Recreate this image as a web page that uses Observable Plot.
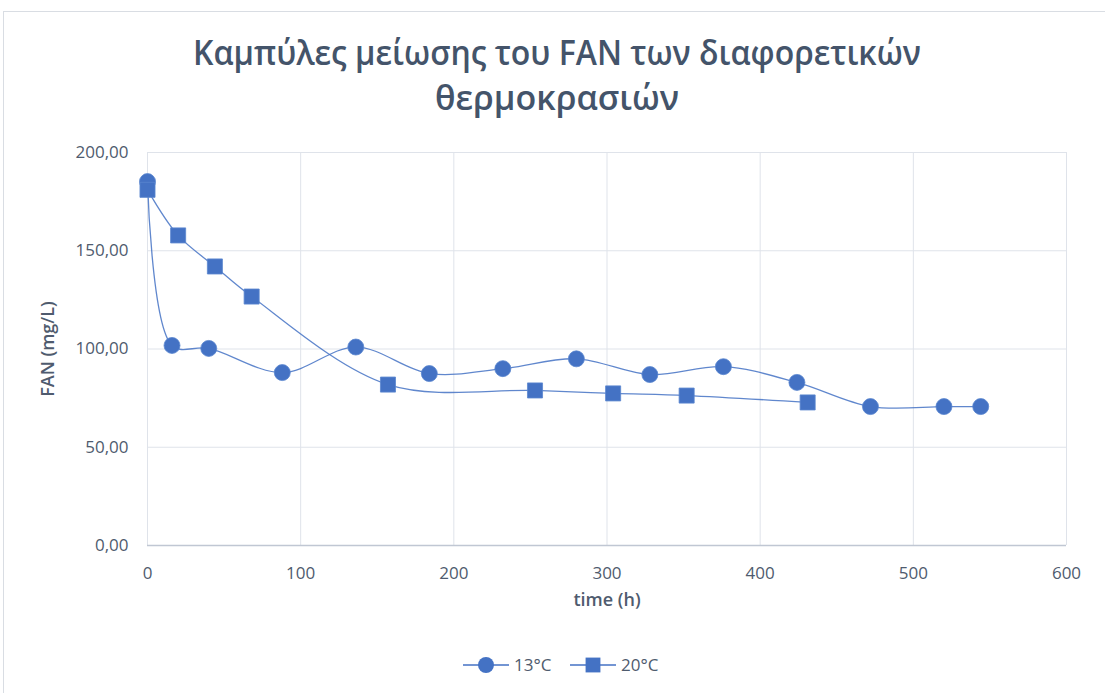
<!DOCTYPE html>
<html>
<head>
<meta charset="utf-8">
<script src="https://cdn.jsdelivr.net/npm/d3@7"></script>
<script src="https://cdn.jsdelivr.net/npm/@observablehq/plot@0.6"></script>
<style>
  html, body { margin: 0; padding: 0; background: #fff; }
  body { width: 1105px; height: 693px; position: relative; overflow: hidden; font-family: "Open Sans", "Liberation Sans", sans-serif; }
  #frame { position: absolute; left: 3px; top: 11px; width: 1200px; height: 800px; border: 1.5px solid #d9dde3; box-sizing: border-box; }
  #title { position: absolute; left: 0; top: 0; }
  #chart { position: absolute; left: 0; top: 130px; }
  #legend { position: absolute; left: 0; top: 645px; }
</style>
</head>
<body>
<div id="frame"></div>
<svg id="title" width="1105" height="130">
  <text x="557" y="65" text-anchor="middle" font-size="34" font-weight="600" fill="#44546a" textLength="728" lengthAdjust="spacingAndGlyphs" font-family="Open Sans, sans-serif">Καμπύλες μείωσης του FAN των διαφορετικών</text>
  <text x="557" y="110" text-anchor="middle" font-size="34" font-weight="600" fill="#44546a" textLength="244" lengthAdjust="spacingAndGlyphs" font-family="Open Sans, sans-serif">θερμοκρασιών</text>
</svg>
<div id="chart"></div>
<svg id="legend" width="1105" height="40"></svg>
<script>
const seriesNames = ["13°C", "20°C"];
const time13 = [0, 16, 40, 88, 136, 184, 232, 280, 328, 376, 424, 472, 520, 544];
const fan13 = [185.2, 101.8, 100.3, 88, 101, 87.5, 90, 95, 87, 91, 83, 70.7, 70.7, 70.7];
const time20 = [0, 20, 44, 68, 157, 253, 304, 352, 431];
const fan20 = [181, 157.8, 142, 126.7, 81.9, 78.9, 77.4, 76.3, 72.8];
const xTicks = [0, 100, 200, 300, 400, 500, 600];
const yTicks = [0, 50, 100, 150, 200];
const xLabel = "time (h)";
const yLabel = "FAN (mg/L)";

const blue = "#4472c4";
const d13 = time13.map((t, i) => ({t, v: fan13[i], s: seriesNames[0]}));
const d20 = time20.map((t, i) => ({t, v: fan20[i], s: seriesNames[1]}));
const fmt = d => d.toFixed(2).replace(".", ",");

const chart = Plot.plot({
  width: 1105,
  height: 495,
  marginLeft: 147,
  marginRight: 39,
  marginTop: 22,
  marginBottom: 80,
  style: {fontSize: "17px", color: "#4f5b6e", fontFamily: "Open Sans, sans-serif", background: "transparent", overflow: "visible"},
  x: {domain: [0, 600], ticks: xTicks, label: null},
  y: {domain: [0, 200], ticks: yTicks, label: null},
  marks: [
    Plot.gridX(xTicks, {stroke: "#dfe3ea", strokeOpacity: 1, strokeWidth: 1}),
    Plot.gridY(yTicks, {stroke: "#dfe3ea", strokeOpacity: 1, strokeWidth: 1}),
    Plot.ruleY([0], {stroke: "#c0c7d3", strokeWidth: 1.3}),
    Plot.axisX({ticks: xTicks, tickSize: 0, tickPadding: 21, fontSize: 17, label: null}),
    Plot.axisY({ticks: yTicks, tickSize: 0, tickPadding: 19, fontSize: 17, tickFormat: fmt, label: null}),
    Plot.text([xLabel], {frameAnchor: "bottom", dy: 60, fontSize: 18, fontWeight: 600, fill: "#4f5b6e", textAnchor: "middle"}),
    Plot.text([yLabel], {frameAnchor: "left", dx: -99, rotate: -90, fontSize: 18, fontWeight: 600, fill: "#4f5b6e", textAnchor: "middle"}),
    Plot.line(d20, {x: "t", y: "v", curve: "catmull-rom", stroke: blue, strokeWidth: 1.3, strokeOpacity: 0.85}),
    Plot.line(d13, {x: "t", y: "v", curve: "catmull-rom", stroke: blue, strokeWidth: 1.3, strokeOpacity: 0.85}),
    Plot.dot(d13, {x: "t", y: "v", symbol: "circle", r: 8, fill: blue, stroke: "#5b86cf", strokeWidth: 0.8}),
    Plot.dot(d20, {x: "t", y: "v", symbol: "square", r: 8.5, fill: blue, stroke: "#5b86cf", strokeWidth: 0.8})
  ]
});
document.getElementById("chart").appendChild(chart);

// legend
const lg = d3.select("#legend");
const items = [
  {name: seriesNames[0], x0: 463, sym: d3.symbolCircle, size: 200},
  {name: seriesNames[1], x0: 570, sym: d3.symbolSquare, size: 220}
];
const cy = 20;
items.forEach(it => {
  lg.append("line").attr("x1", it.x0).attr("x2", it.x0 + 46).attr("y1", cy).attr("y2", cy).attr("stroke", blue).attr("stroke-width", 1.5);
  lg.append("path").attr("d", d3.symbol(it.sym, it.size)()).attr("transform", `translate(${it.x0 + 23},${cy})`).attr("fill", blue);
  lg.append("text").attr("x", it.x0 + 51).attr("y", cy + 6).attr("font-size", 17).attr("fill", "#4f5b6e").attr("font-family", "Open Sans, sans-serif").text(it.name);
});
</script>
</body>
</html>
